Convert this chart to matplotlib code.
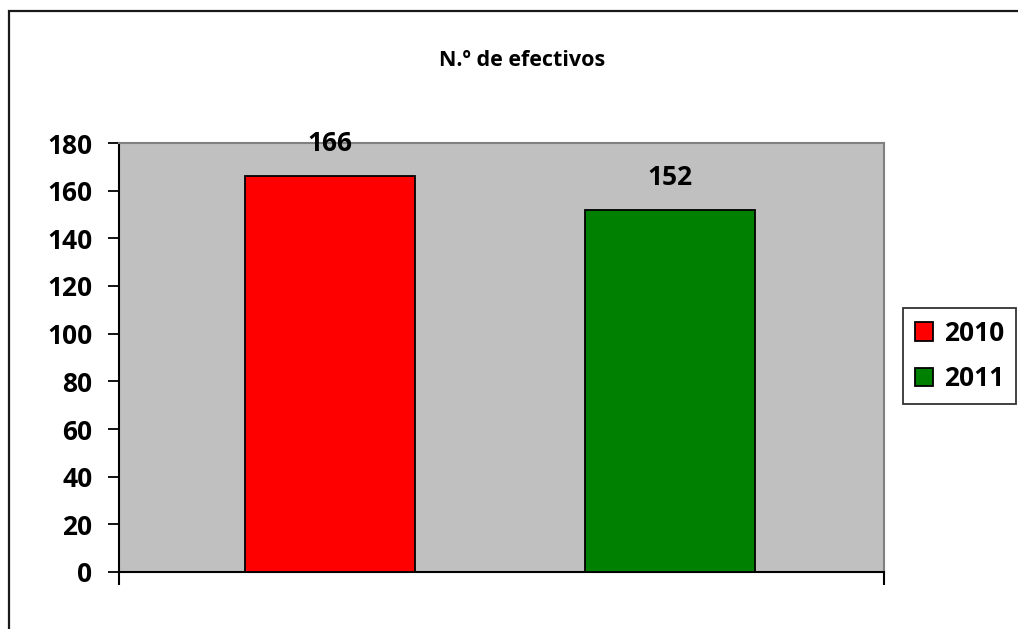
import matplotlib

matplotlib.use("Agg")

import matplotlib.pyplot as plt
from matplotlib.patches import Rectangle

plt.rcParams["font.family"] = ["Open Sans", "DejaVu Sans"]
plt.rcParams["font.weight"] = "bold"

title = "N.º de efectivos"
series = ["2010", "2011"]
values = [166, 152]
colors = ["#FF0000", "#008000"]
yticks = list(range(0, 181, 20))

W, H = 1018, 629
fig = plt.figure(figsize=(W / 100, H / 100), dpi=100)

# outer frame of the chart area, running off the right and bottom edges
fig.patches.append(Rectangle((9 / W, -0.05), 1.1, 1 - 11 / H + 0.05,
                             transform=fig.transFigure, fill=False,
                             edgecolor="#1a1a1a", linewidth=1.6))

ax = fig.add_axes([119 / W, (H - 572) / H, 765 / W, 429 / H])
ax.set_facecolor("#C0C0C0")

x = list(range(len(values)))
bars = ax.bar(x, values, width=0.5, color=colors, edgecolor="black",
              linewidth=1.3, label=series, zorder=3)
for xi, v in zip(x, values):
    ax.text(xi, v + 8, f"{v}", ha="center", va="bottom", fontsize=19,
            fontweight="bold", zorder=4)

ax.set_xlim(-0.6206, 1.6294)
ax.set_ylim(0, 180)
ax.set_yticks(yticks)
ax.tick_params(axis="y", labelsize=19, length=8, width=1.3, pad=11,
               direction="out")
ax.set_xticks([-0.6206, 1.6294])
ax.set_xticklabels([])
ax.tick_params(axis="x", length=9, width=1.5, direction="out")

for side in ("top", "right"):
    ax.spines[side].set_color("#808080")
    ax.spines[side].set_linewidth(1.5)
for side in ("left", "bottom"):
    ax.spines[side].set_color("black")
    ax.spines[side].set_linewidth(1.5)

fig.text(522 / W, 1 - 60 / H, title, ha="center", va="center",
         fontsize=15.5, fontweight="bold")

leg = fig.legend(handles=bars, labels=series, loc="upper left",
                 bbox_to_anchor=(903 / W, 1 - 308 / H), fontsize=19,
                 frameon=True, fancybox=False, handlelength=0.7,
                 handleheight=0.7, handletextpad=0.4, borderpad=0.45,
                 labelspacing=0.7, borderaxespad=0)
leg.get_frame().set_edgecolor("black")
leg.get_frame().set_linewidth(1.3)

fig.savefig("out.png", dpi=100)
